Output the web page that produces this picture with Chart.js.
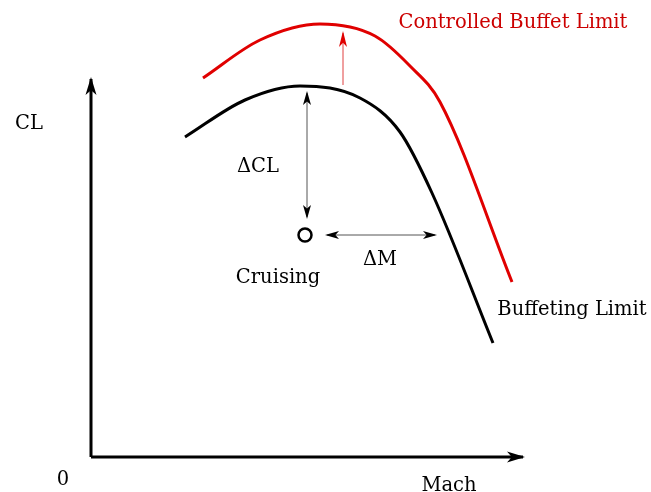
<!DOCTYPE html>
<html>
<head>
<meta charset="utf-8">
<script src="https://cdn.jsdelivr.net/npm/chart.js@4/dist/chart.umd.min.js"></script>
<style>
  html, body { margin: 0; padding: 0; background: #fff; }
  canvas { display: block; }
</style>
</head>
<body>
<canvas id="chart" width="651" height="492"></canvas>
<script>
// schematic units: Mach on x, CL on y (origin of the axes at 0,0)
const buffetMach = [0.94, 1.54, 2.09, 2.69, 3.09, 3.41, 4.02];
const buffetCL   = [3.20, 3.57, 3.71, 3.59, 3.25, 2.64, 1.14];

const controlledMach = [1.12, 1.69, 2.29, 2.84, 3.19, 3.49, 4.21];
const controlledCL   = [3.79, 4.17, 4.33, 4.21, 3.91, 3.55, 1.75];

const cruiseMach = 2.14;
const cruiseCL = 2.22;

const axisMachEnd = 4.32;
const axisCLEnd = 3.78;

// margins (deltas) shown by the arrows
const deltaCLTop = 3.64;
const deltaCLBottom = 2.40;
const deltaMLeft = 2.36;
const deltaMRight = 3.44;
const liftArrowMach = 2.52;
const liftArrowFrom = 3.72;
const liftArrowTo = 4.24;

const toPts = (xs, ys) => xs.map((x, i) => ({ x: x, y: ys[i] }));

const serif = '"DejaVu Serif", serif';

const notes = [
    { text: 'CL', x: -0.62, y: 3.28, color: '#000' },
    { text: '\u0394CL', x: 1.67, y: 2.85, color: '#000' },
    { text: 'Cruising', x: 1.87, y: 1.74, color: '#000' },
    { text: '\u0394M', x: 2.89, y: 1.92, color: '#000' },
    { text: 'Buffeting Limit', x: 4.81, y: 1.42, color: '#000' },
    { text: 'Controlled Buffet Limit', x: 4.22, y: 4.29, color: '#cc0000' },
    { text: '0', x: -0.28, y: -0.28, color: '#000' },
    { text: 'Mach', x: 3.58, y: -0.34, color: '#000' }
];

// draws arrow heads at line ends and the text notes
const sketchPlugin = {
    id: 'sketch',
    afterDatasetsDraw(chart) {
        const ctx = chart.ctx;
        const xs = chart.scales.x, ys = chart.scales.y;
        chart.data.datasets.forEach(ds => {
            if (!ds.arrow) return;
            const p = ds.data.map(d => [xs.getPixelForValue(d.x), ys.getPixelForValue(d.y)]);
            const heads = ds.arrow === 'both' ? [[p[1], p[0]], [p[0], p[1]]] : [[p[0], p[1]]];
            heads.forEach(([a, b]) => {
                const ang = Math.atan2(b[1] - a[1], b[0] - a[0]);
                const len = ds.headLen, w = ds.headWidth;
                ctx.save();
                ctx.translate(b[0], b[1]);
                ctx.rotate(ang);
                ctx.fillStyle = ds.headColor;
                ctx.beginPath();
                ctx.moveTo(2, 0);
                ctx.lineTo(-len, -w);
                ctx.lineTo(-len * 0.7, 0);
                ctx.lineTo(-len, w);
                ctx.closePath();
                ctx.fill();
                ctx.restore();
            });
        });
        ctx.save();
        ctx.font = '19.5px ' + serif;
        ctx.textAlign = 'center';
        ctx.textBaseline = 'alphabetic';
        notes.forEach(n => {
            ctx.fillStyle = n.color;
            ctx.fillText(n.text, xs.getPixelForValue(n.x), ys.getPixelForValue(n.y));
        });
        ctx.restore();
    }
};

const line = (data, color, width, extra) => Object.assign({
    data: data,
    showLine: true,
    borderColor: color,
    borderWidth: width,
    pointRadius: 0,
    fill: false
}, extra || {});

const smooth = { tension: 0.4, cubicInterpolationMode: 'monotone' };

new Chart(document.getElementById('chart'), {
    type: 'scatter',
    data: {
        datasets: [
            line([{ x: 0, y: 0 }, { x: axisMachEnd, y: 0 }], '#000', 3,
                { arrow: 'end', headLen: 16, headWidth: 5.5, headColor: '#000' }),
            line([{ x: 0, y: 0 }, { x: 0, y: axisCLEnd }], '#000', 3,
                { arrow: 'end', headLen: 16, headWidth: 5.5, headColor: '#000' }),
            line(toPts(buffetMach, buffetCL), '#000', 3, smooth),
            line(toPts(controlledMach, controlledCL), '#e00000', 3, smooth),
            line([{ x: cruiseMach + 0.02, y: deltaCLBottom }, { x: cruiseMach + 0.02, y: deltaCLTop }], '#555', 1,
                { arrow: 'both', headLen: 12, headWidth: 4, headColor: '#000' }),
            line([{ x: deltaMLeft, y: cruiseCL }, { x: deltaMRight, y: cruiseCL }], '#555', 1,
                { arrow: 'both', headLen: 12, headWidth: 4, headColor: '#000' }),
            line([{ x: liftArrowMach, y: liftArrowFrom }, { x: liftArrowMach, y: liftArrowTo }], '#e04040', 1,
                { arrow: 'end', headLen: 14, headWidth: 4, headColor: '#e00000' }),
            {
                data: [{ x: cruiseMach, y: cruiseCL }],
                pointRadius: 6.5,
                pointBorderWidth: 2.5,
                pointBorderColor: '#000',
                pointBackgroundColor: '#fff'
            }
        ]
    },
    options: {
        responsive: false,
        animation: false,
        devicePixelRatio: 1,
        layout: { padding: 0, autoPadding: false },
        plugins: { legend: { display: false }, tooltip: { enabled: false } },
        scales: {
            x: { type: 'linear', min: -0.91, max: 5.60, display: false },
            y: { type: 'linear', min: -0.35, max: 4.57, display: false }
        }
    },
    plugins: [sketchPlugin]
});
</script>
</body>
</html>
